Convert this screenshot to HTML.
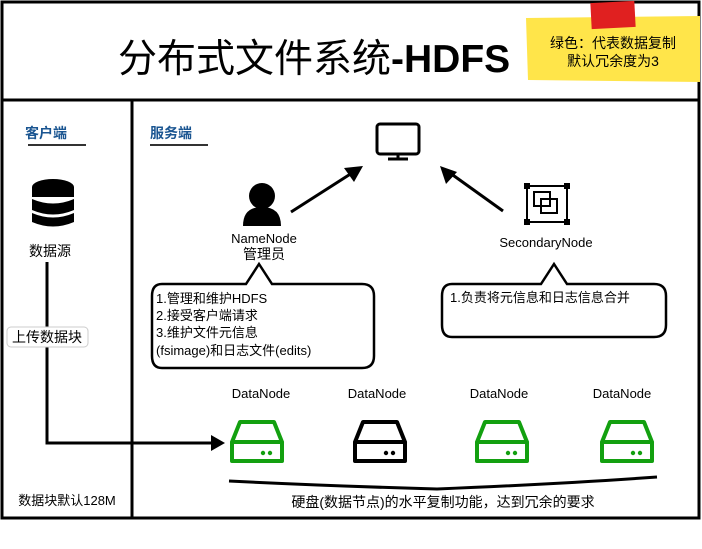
<!DOCTYPE html>
<html><head><meta charset="utf-8"><style>
html,body{margin:0;padding:0;background:#fff;width:702px;height:549px;overflow:hidden}
svg text{font-family:"Liberation Sans","Noto Sans CJK SC",sans-serif}
</style></head><body>
<svg width="702" height="549" viewBox="0 0 702 549" xmlns="http://www.w3.org/2000/svg">
<rect x="2" y="2" width="697" height="516" fill="#fff" stroke="#000" stroke-width="3"/>
<line x1="2" y1="100" x2="699" y2="100" stroke="#000" stroke-width="3"/>
<line x1="132" y1="100" x2="132" y2="518" stroke="#000" stroke-width="3"/>
<text x="118" y="72" font-size="39" fill="#000" font-family="Noto Sans CJK SC,sans-serif">分布式文件系统<tspan font-family="Liberation Sans,sans-serif" font-weight="bold">-HDFS</tspan></text>
<!-- sticky note -->
<polygon points="526,18 700,16 700,82 528,80" fill="#ffe54a"/>
<rect x="591" y="2" width="44" height="26" fill="#e02020" transform="rotate(-3 613 15)"/>
<text x="613" y="48" font-size="14" text-anchor="middle" fill="#000">绿色：代表数据复制</text>
<text x="613" y="66" font-size="14" text-anchor="middle" fill="#000">默认冗余度为3</text>
<!-- headers -->
<text x="25" y="138" font-size="14" font-weight="bold" fill="#1a5591">客户端</text>
<line x1="28" y1="145" x2="86" y2="145" stroke="#333" stroke-width="2"/>
<text x="150" y="138" font-size="14" font-weight="bold" fill="#1a5591">服务端</text>
<line x1="150" y1="145" x2="208" y2="145" stroke="#333" stroke-width="2"/>
<!-- database -->
<g fill="#000">
<ellipse cx="53" cy="187" rx="21" ry="8"/>
<rect x="32" y="187" width="42" height="10"/>
<path d="M32,199 Q53,208 74,199 L74,210 Q53,219 32,210Z"/>
<path d="M32,213 Q53,222 74,213 L74,222 Q53,231 32,222Z"/>
</g>
<text x="50" y="256" font-size="14" text-anchor="middle">数据源</text>
<!-- monitor -->
<rect x="377" y="124" width="42" height="30" rx="3" fill="none" stroke="#000" stroke-width="3"/>
<line x1="398" y1="154" x2="398" y2="159" stroke="#000" stroke-width="3"/>
<line x1="388" y1="159" x2="408" y2="159" stroke="#000" stroke-width="3"/>
<!-- arrows -->
<line x1="291" y1="212" x2="352" y2="173" stroke="#000" stroke-width="3"/>
<polygon points="363,166 344,168 354,182" fill="#000"/>
<line x1="503" y1="211" x2="450" y2="173" stroke="#000" stroke-width="3"/>
<polygon points="440,166 446,184 457,172" fill="#000"/>
<!-- person -->
<circle cx="262" cy="196" r="13" fill="#000"/>
<path d="M243,226 Q243,207 262,207 Q281,207 281,226 Z" fill="#000"/>
<text x="264" y="243" font-size="13" text-anchor="middle">NameNode</text>
<text x="264" y="259" font-size="14" text-anchor="middle">管理员</text>
<!-- secondary icon -->
<g fill="none" stroke="#000" stroke-width="2">
<rect x="527" y="186" width="40" height="36"/>
<rect x="534" y="192" width="16" height="14"/>
<rect x="541" y="199" width="16" height="14"/>
</g>
<g fill="#000"><rect x="524" y="183" width="6" height="6"/><rect x="564" y="183" width="6" height="6"/><rect x="524" y="219" width="6" height="6"/><rect x="564" y="219" width="6" height="6"/></g>
<text x="546" y="247" font-size="13" text-anchor="middle">SecondaryNode</text>
<!-- callouts -->
<path d="M162,284 L246,284 L259,264 L272,284 L362,284 Q374,284 374,296 L374,356 Q374,368 362,368 L162,368 Q152,368 152,356 L152,296 Q152,284 162,284Z" fill="#fff" stroke="#000" stroke-width="2.5"/>
<text font-size="13"><tspan x="156" y="303">1.管理和维护HDFS</tspan><tspan x="156" y="320">2.接受客户端请求</tspan><tspan x="156" y="337">3.维护文件元信息</tspan><tspan x="156" y="355">(fsimage)和日志文件(edits)</tspan></text>
<path d="M452,284 L541,284 L554,264 L567,284 L654,284 Q666,284 666,296 L666,325 Q666,337 654,337 L452,337 Q442,337 442,325 L442,296 Q442,284 452,284Z" fill="#fff" stroke="#000" stroke-width="2.5"/>
<text x="450" y="302" font-size="13">1.负责将元信息和日志信息合并</text>
<!-- upload -->
<path d="M47,262 L47,443 L213,443" fill="none" stroke="#000" stroke-width="3"/>
<polygon points="225,443 211,435 211,451" fill="#000"/>
<rect x="7" y="327" width="81" height="20" rx="4" fill="#fff" stroke="#ccc"/>
<text x="47" y="342" font-size="14" text-anchor="middle">上传数据块</text>
<text x="67" y="505" font-size="13" text-anchor="middle">数据块默认128M</text>
<!-- datanodes -->
<g font-size="13" text-anchor="middle">
<text x="261" y="398">DataNode</text><text x="377" y="398">DataNode</text><text x="499" y="398">DataNode</text><text x="622" y="398">DataNode</text>
</g>
<g fill="none" stroke-width="4" stroke-linejoin="round">
<path stroke="#13a010" d="M232,442 L240,422 L274,422 L282,442 Z M232,442 L282,442 L282,461 L232,461 Z"/>
<path stroke="#000" d="M355,442 L363,422 L397,422 L405,442 Z M355,442 L405,442 L405,461 L355,461 Z"/>
<path stroke="#13a010" d="M477,442 L485,422 L519,422 L527,442 Z M477,442 L527,442 L527,461 L477,461 Z"/>
<path stroke="#13a010" d="M602,442 L610,422 L644,422 L652,442 Z M602,442 L652,442 L652,461 L602,461 Z"/>
</g>
<g fill="#13a010"><circle cx="263" cy="453" r="2.2"/><circle cx="270" cy="453" r="2.2"/><circle cx="508" cy="453" r="2.2"/><circle cx="515" cy="453" r="2.2"/><circle cx="633" cy="453" r="2.2"/><circle cx="640" cy="453" r="2.2"/></g>
<g fill="#000"><circle cx="386" cy="453" r="2.2"/><circle cx="393" cy="453" r="2.2"/></g>
<path d="M229,481 Q330,486 437,489 Q560,484 657,477" fill="none" stroke="#000" stroke-width="3"/>
<text x="443" y="507" font-size="14" text-anchor="middle">硬盘(数据节点)的水平复制功能，达到冗余的要求</text>
</svg>
</body></html>
